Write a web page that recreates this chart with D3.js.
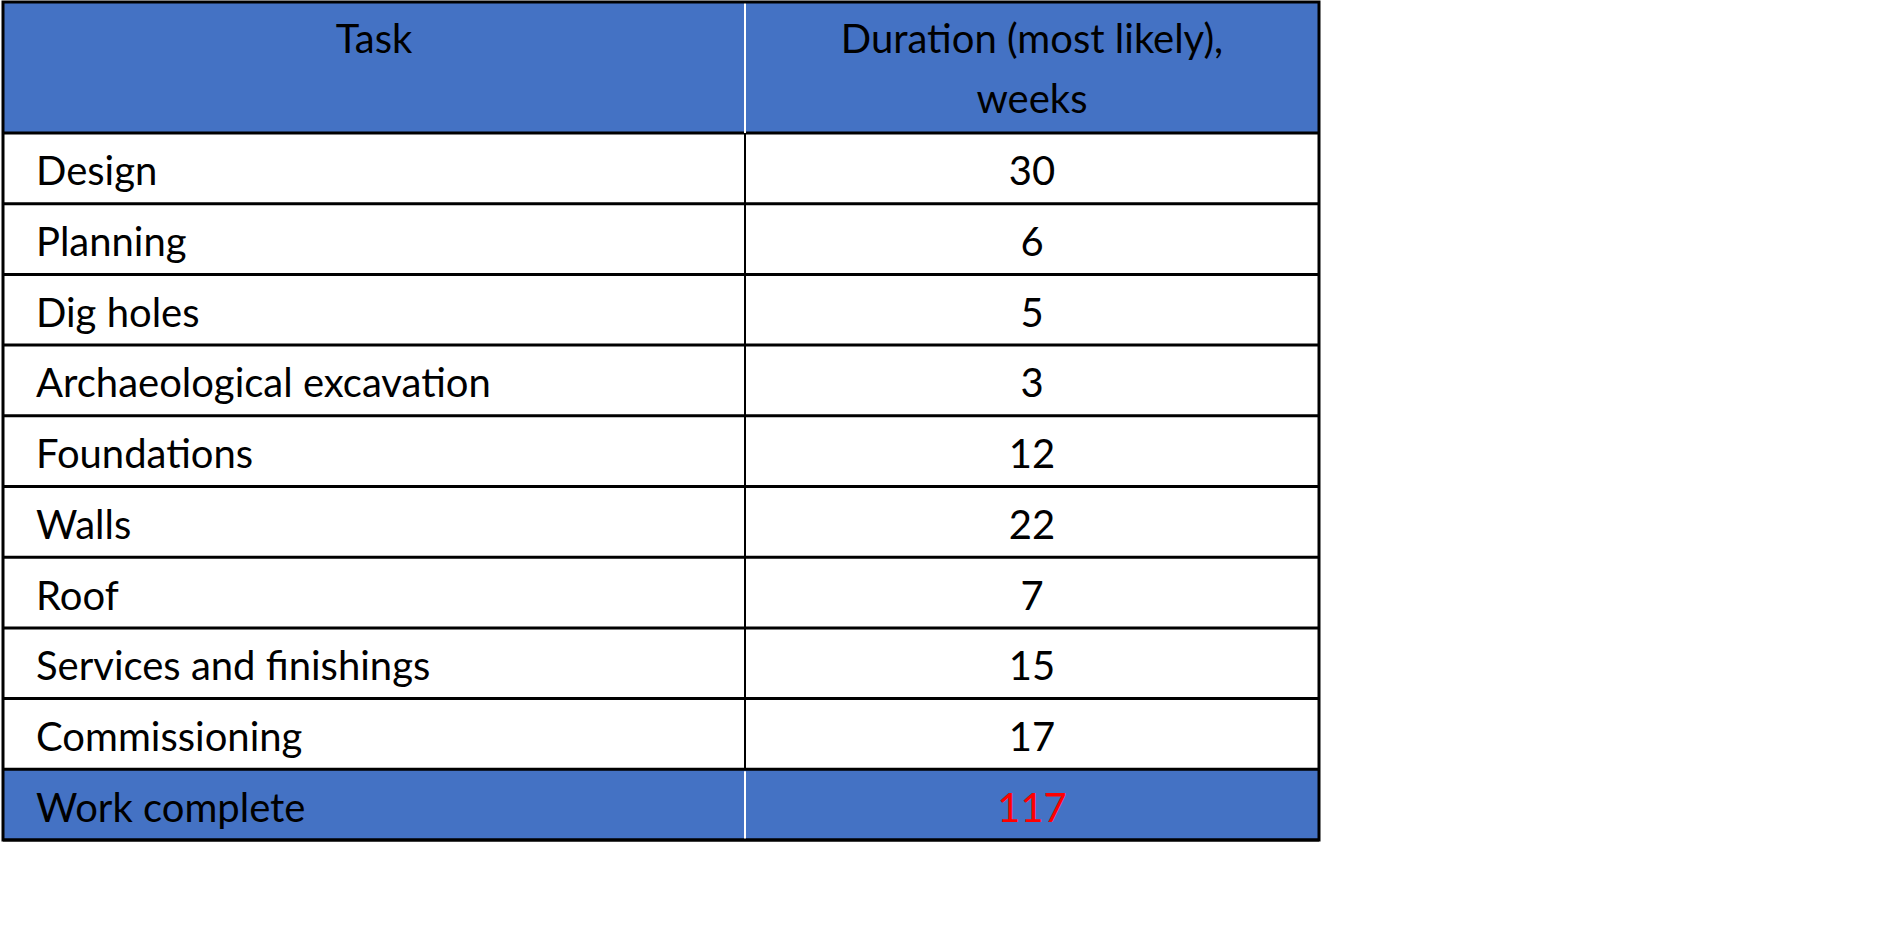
<!DOCTYPE html>
<html><head><meta charset="utf-8">
<script src="https://cdn.jsdelivr.net/npm/d3@7"></script>
<style>body{margin:0;background:#fff}</style>
</head><body>
<script>
var tasks = ['Design','Planning','Dig holes','Archaeological excavation','Foundations','Walls','Roof','Services and finishings','Commissioning']
var weeks = [30,6,5,3,12,22,7,15,17]
var headers = ['Task', 'Duration (most likely),|weeks']
var totalLabel = 'Work complete'
var total = d3.sum(weeks)

var rows = tasks.map(function(t,i){return {task:t, value:weeks[i], total:false}})
rows.push({task:totalLabel, value:total, total:true})

var W = 1891, H = 933
var x0 = 3, x1 = 745, x2 = 1319
var headH = 133
var y = d3.scaleBand().domain(d3.range(rows.length)).range([headH, 840])
var blue = '#4472c4'
var font = 'Lato, "Open Sans", sans-serif'

var svg = d3.select('body').append('svg').attr('width', W).attr('height', H)

// header
svg.append('rect').attr('x', x0).attr('y', 2).attr('width', x2-x0).attr('height', headH-2).attr('fill', blue)
svg.append('text').attr('x', (x0+x1)/2).attr('y', 53).attr('text-anchor','middle')
  .attr('font-family', font).attr('font-size', 40).text(headers[0])
var h2 = headers[1].split('|')
h2.forEach(function(l,i){
  svg.append('text').attr('x', (x1+x2)/2).attr('y', 53 + i*60).attr('text-anchor','middle')
    .attr('font-family', font).attr('font-size', 40).text(l)
})

var g = svg.selectAll('g.row').data(rows).enter().append('g')
  .attr('transform', function(d,i){return 'translate(0,' + y(i) + ')'})
g.append('rect').attr('x', x0).attr('width', x2-x0).attr('height', y.bandwidth())
  .attr('fill', function(d){return d.total ? blue : '#fff'})
g.append('text').attr('x', 36).attr('y', y.bandwidth()*0.74)
  .attr('font-family', font).attr('font-size', 40).text(function(d){return d.task})
g.append('text').attr('x', (x1+x2)/2).attr('y', y.bandwidth()*0.74).attr('text-anchor','middle')
  .attr('font-family', font).attr('font-size', 40)
  .attr('fill', function(d){return d.total ? '#ff0000' : '#000'})
  .text(function(d){return d.value})

// grid lines
var lines = [headH].concat(rows.map(function(d,i){return y(i) + y.bandwidth()}))
svg.selectAll('line.h').data(lines).enter().append('line')
  .attr('x1', x0).attr('x2', x2).attr('y1', function(d){return d}).attr('y2', function(d){return d})
  .attr('stroke', '#000').attr('stroke-width', 3)
// vertical divider: black in white rows, white in blue rows
svg.append('line').attr('x1', x1).attr('x2', x1).attr('y1', headH).attr('y2', y(rows.length-1))
  .attr('stroke', '#000').attr('stroke-width', 2)
svg.append('line').attr('x1', x1).attr('x2', x1).attr('y1', 2).attr('y2', headH)
  .attr('stroke', '#fff').attr('stroke-width', 2)
svg.append('line').attr('x1', x1).attr('x2', x1).attr('y1', y(rows.length-1)+2).attr('y2', 840)
  .attr('stroke', '#fff').attr('stroke-width', 2)
svg.append('rect').attr('x', x0).attr('y', 2).attr('width', x2-x0).attr('height', 838)
  .attr('fill', 'none').attr('stroke', '#000').attr('stroke-width', 3)
</script>
</body></html>
